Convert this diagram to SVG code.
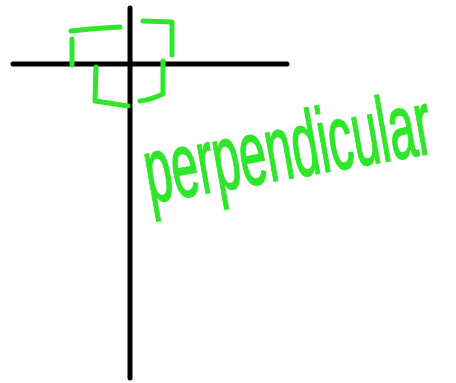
<svg xmlns="http://www.w3.org/2000/svg" width="456" height="383" viewBox="0 0 456 383">
<style>
.ink{stroke:#000;stroke-width:5;stroke-linecap:round;fill:none}
.mark{stroke:#2ee62a;stroke-width:5;stroke-linecap:round;stroke-linejoin:round;fill:none}
.word{fill:#2ee62a;stroke:#2ee62a;stroke-width:1.6;font-family:"Liberation Sans","DejaVu Sans",sans-serif;font-size:92px}
</style>
<rect width="456" height="383" fill="#fff"/>
<g id="lines">
<path class="ink" d="M130 8 L130 378"/>
<path class="ink" d="M13 64 L287 64"/>
</g>
<g id="right-angle-marks">
<path class="mark" d="M71 31 Q95 28 120 27"/>
<path class="mark" d="M72 39 L72 65"/>
<path class="mark" d="M143 21 L172 22 L172 55"/>
<path class="mark" d="M163 61 L163 94 Q150 100 140 101"/>
<path class="mark" d="M96 67 L95 101 L128 106"/>
</g>
<g id="label" transform="translate(150 203) rotate(-10) scale(0.52 1)">
<text class="word" x="0" y="0">perpendicular</text>
</g>
</svg>
